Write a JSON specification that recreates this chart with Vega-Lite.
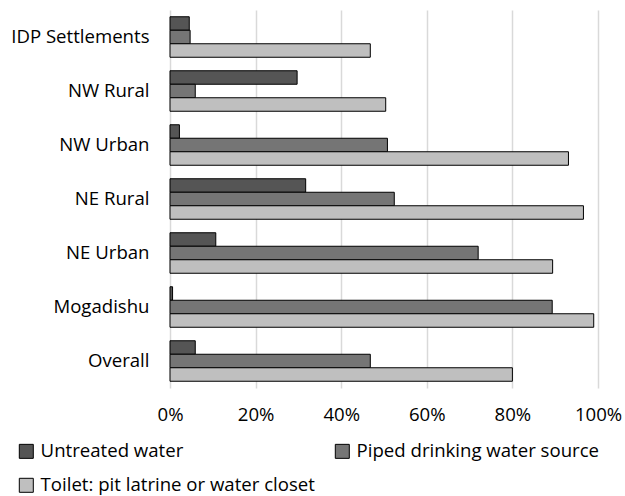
{
  "$schema": "https://vega.github.io/schema/vega-lite/v6.json",
  "width": 428,
  "height": 378,
  "autosize": {"type": "none"},
  "padding": {"left": 170, "top": 10, "right": 27, "bottom": 108},
  "background": "white",
  "config": {
    "view": {"stroke": null},
    "font": "Open Sans",
    "axis": {"labelFont": "Open Sans", "labelFontSize": 18.6, "labelColor": "#000000"},
    "legend": {"labelFont": "Open Sans", "labelFontSize": 18.6, "labelColor": "#000000"}
  },
  "data": {
    "values": [
      {"region": "IDP Settlements", "series": "Untreated water", "value": 4.5},
      {"region": "IDP Settlements", "series": "Piped drinking water source", "value": 4.7},
      {"region": "IDP Settlements", "series": "Toilet: pit latrine or water closet", "value": 46.8},
      {"region": "NW Rural", "series": "Untreated water", "value": 29.7},
      {"region": "NW Rural", "series": "Piped drinking water source", "value": 5.9},
      {"region": "NW Rural", "series": "Toilet: pit latrine or water closet", "value": 50.4},
      {"region": "NW Urban", "series": "Untreated water", "value": 2.2},
      {"region": "NW Urban", "series": "Piped drinking water source", "value": 50.8},
      {"region": "NW Urban", "series": "Toilet: pit latrine or water closet", "value": 93.1},
      {"region": "NE Rural", "series": "Untreated water", "value": 31.7},
      {"region": "NE Rural", "series": "Piped drinking water source", "value": 52.4},
      {"region": "NE Rural", "series": "Toilet: pit latrine or water closet", "value": 96.6},
      {"region": "NE Urban", "series": "Untreated water", "value": 10.7},
      {"region": "NE Urban", "series": "Piped drinking water source", "value": 72.0},
      {"region": "NE Urban", "series": "Toilet: pit latrine or water closet", "value": 89.4},
      {"region": "Mogadishu", "series": "Untreated water", "value": 0.6},
      {"region": "Mogadishu", "series": "Piped drinking water source", "value": 89.3},
      {"region": "Mogadishu", "series": "Toilet: pit latrine or water closet", "value": 99.0},
      {"region": "Overall", "series": "Untreated water", "value": 5.9},
      {"region": "Overall", "series": "Piped drinking water source", "value": 46.8},
      {"region": "Overall", "series": "Toilet: pit latrine or water closet", "value": 80.0}
    ]
  },
  "mark": {"type": "bar", "stroke": "#000000", "strokeWidth": 1},
  "encoding": {
    "y": {
      "field": "region",
      "type": "nominal",
      "sort": ["IDP Settlements", "NW Rural", "NW Urban", "NE Rural", "NE Urban", "Mogadishu", "Overall"],
      "scale": {"paddingInner": 0.25, "paddingOuter": 0.125},
      "axis": {"title": null, "ticks": false, "domain": false, "labelPadding": 21, "grid": false}
    },
    "yOffset": {
      "field": "series",
      "type": "nominal",
      "sort": ["Untreated water", "Piped drinking water source", "Toilet: pit latrine or water closet"]
    },
    "x": {
      "field": "value",
      "type": "quantitative",
      "scale": {"domain": [0, 100], "nice": false},
      "axis": {
        "title": null,
        "values": [0, 20, 40, 60, 80, 100],
        "labelExpr": "datum.value + '%'",
        "labelFlush": false,
        "labelOverlap": false,
        "ticks": false,
        "domain": false,
        "grid": true,
        "gridColor": "#d9d9d9",
        "gridWidth": 1.5,
        "labelPadding": 17
      }
    },
    "color": {
      "field": "series",
      "type": "nominal",
      "sort": ["Untreated water", "Piped drinking water source", "Toilet: pit latrine or water closet"],
      "scale": {
        "domain": ["Untreated water", "Piped drinking water source", "Toilet: pit latrine or water closet"],
        "range": ["#555555", "#757575", "#bfbfbf"]
      },
      "legend": {
        "title": null,
        "orient": "none",
        "direction": "horizontal",
        "legendX": -153,
        "legendY": 432,
        "columns": 2,
        "columnPadding": 18,
        "rowPadding": 15,
        "labelLimit": 500,
        "symbolType": "square",
        "symbolSize": 196,
        "symbolStrokeColor": "#000000",
        "symbolStrokeWidth": 1,
        "labelOffset": 5,
        "padding": 0
      }
    }
  }
}
